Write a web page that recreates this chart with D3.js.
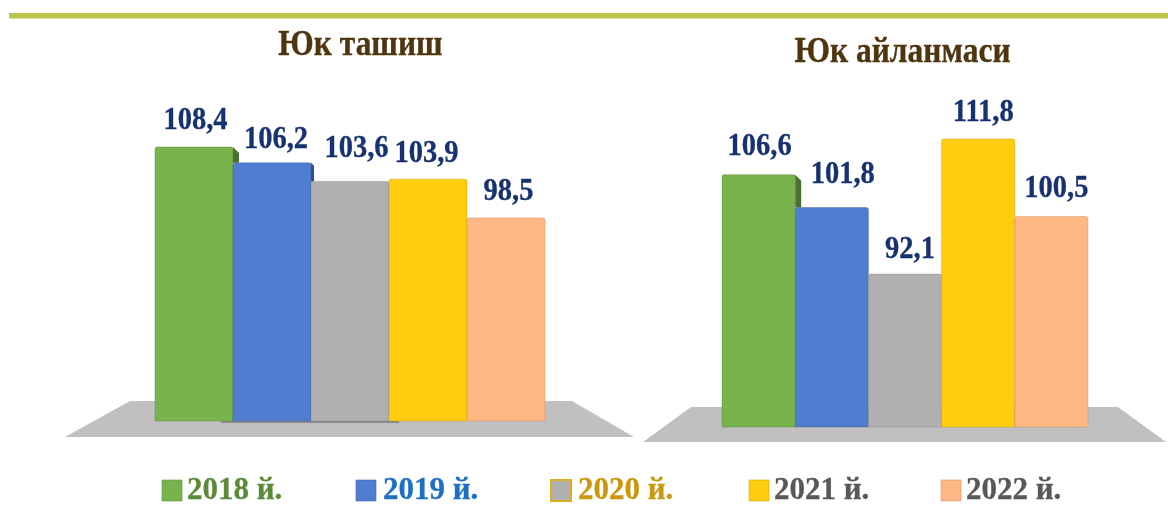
<!DOCTYPE html>
<html>
<head>
<meta charset="utf-8">
<script src="https://cdn.jsdelivr.net/npm/d3@7/dist/d3.min.js"></script>
<style>
  html, body { margin: 0; padding: 0; background: #fff; }
  text { font-family: "Liberation Serif", serif; font-weight: bold; }
</style>
</head>
<body>
<div id="chart_div"></div>
<script>
  // data
  var years = ["2018 й.", "2019 й.", "2020 й.", "2021 й.", "2022 й."];
  var cargoTransport = [108.4, 106.2, 103.6, 103.9, 98.5];
  var cargoTurnover = [106.6, 101.8, 92.1, 111.8, 100.5];
  var barColors = ["#78b34e", "#4f7dcf", "#b0b0b0", "#ffcd0c", "#ffb784"];
  var legendTextColors = ["#5c8a38", "#1f70c4", "#c8980f", "#595959", "#595959"];

  var all_width = 1168, all_height = 506;
  var stretch = 1.12; // the source text is a bit taller than the font

  var svg = d3.select("#chart_div")
    .append("svg")
      .attr("width", all_width)
      .attr("height", all_height)
      .style("display", "block");

  // the source is a soft screenshot, so everything gets a slight blur
  svg.append("defs").append("filter").attr("id", "soft")
    .attr("x", "-5%").attr("y", "-5%").attr("width", "110%").attr("height", "110%")
    .append("feGaussianBlur").attr("stdDeviation", 0.55);

  var root = svg.append("g").attr("filter", "url(#soft)");

  // top rule
  root.append("rect")
    .attr("x", 9).attr("y", 13)
    .attr("width", all_width - 9).attr("height", 5.5)
    .attr("fill", "#bcc548");

  function panel(opt) {
    var x = d3.scaleBand().domain(years).range(opt.xRange).padding(0);
    var y = d3.scaleLinear().domain(opt.yDomain).range(opt.yRange);
    var g = root.append("g");

    // floor
    g.append("polygon")
      .attr("points", opt.floor.map(function(p) { return p.join(","); }).join(" "))
      .attr("fill", "#c0c0c0");

    if (opt.shadow) {
      g.append("rect")
        .attr("x", x(years[1]) - 12)
        .attr("y", opt.yRange[0])
        .attr("width", x(years[3]) - x(years[1]) + 22)
        .attr("height", 2)
        .attr("fill", "#8c8c8c");
    }

    // dark side of a bar, seen where the next bar is lower
    g.selectAll("sides")
      .data(opt.sideWidth)
      .enter()
      .append("polygon")
        .attr("points", function(w, i) {
          var right = x(years[i]) + x.bandwidth();
          var top = y(opt.values[i]), next = y(opt.values[i + 1]);
          if (!w) return "";
          return [[right, top], [right + w, top + w], [right + w, next], [right, next]].join(" ");
        })
        .attr("fill", function(w, i) { return d3.color(barColors[i]).darker(1.3); });

    // bars
    g.selectAll("bars")
      .data(opt.values)
      .enter()
      .append("path")
        .attr("d", function(d, i) {
          var x0 = x(years[i]), x1 = x0 + x.bandwidth(), top = y(d), r = 2;
          return "M" + x0 + "," + opt.yRange[0] + "V" + (top + r) + "Q" + x0 + "," + top + " " + (x0 + r) + "," + top +
            "H" + (x1 - r) + "Q" + x1 + "," + top + " " + x1 + "," + (top + r) + "V" + opt.yRange[0] + "Z";
        })
        .attr("fill", function(d, i) { return barColors[i]; })
        .attr("stroke", function(d, i) { return d3.color(barColors[i]).darker(0.9); })
        .attr("stroke-width", 0.4);

    // value labels
    g.selectAll("labels")
      .data(opt.values)
      .enter()
      .append("text")
        .attr("transform", function(d, i) {
          return "translate(" + (x(years[i]) + x.bandwidth() / 2 + opt.labelDx[i]) + "," + (y(d) + opt.labelDy[i]) + ") scale(1," + stretch + ")";
        })
        .attr("text-anchor", "middle")
        .attr("font-size", 28.5)
        .attr("fill", "#16306f")
        .attr("stroke", "#16306f")
        .attr("stroke-width", 0.3)
        .text(function(d) { return String(d).replace(".", ","); });

    // title
    g.append("text")
      .attr("transform", "translate(" + opt.titleX + "," + opt.titleY + ") scale(1," + stretch + ")")
      .attr("text-anchor", "middle")
      .attr("font-size", 31.5)
      .attr("fill", "#4f3511")
      .attr("stroke", "#4f3511")
      .attr("stroke-width", 0.3)
      .text(opt.title);
  }

  panel({
    title: "Юк ташиш", titleX: 360.5, titleY: 55,
    values: cargoTransport,
    xRange: [155, 545], yDomain: [70.2, 108.4], yRange: [421, 147],
    floor: [[65, 437], [130, 401], [572, 401], [634, 437]],
    sideWidth: [6, 3, 0, 0],
    shadow: true,
    labelDx: [1.5, 4, 6.5, -1.5, 2.5], labelDy: [-18, -15, -24, -17, -18]
  });

  panel({
    title: "Юк айланмаси", titleX: 902.5, titleY: 62,
    values: cargoTurnover,
    xRange: [722, 1088], yDomain: [69.8, 111.8], yRange: [427, 139],
    floor: [[643, 442], [691, 407], [1118, 407], [1166, 442]],
    sideWidth: [6, 0, 0, 0],
    shadow: false,
    labelDx: [1, 11, 5, 5, 5], labelDy: [-20, -25, -16, -18, -19.5]
  });

  // legend
  var legendSwatchX = [162, 356, 551, 749, 941];
  var legendTextX = [187, 383, 578, 774, 966];
  var legend = root.selectAll("legend")
    .data(years)
    .enter()
    .append("g");

  legend.append("rect")
    .attr("x", function(d, i) { return legendSwatchX[i]; })
    .attr("y", 480)
    .attr("width", 20).attr("height", 21)
    .attr("fill", function(d, i) { return barColors[i]; })
    .attr("stroke", function(d, i) { return i === 2 ? "#dcae20" : d3.color(barColors[i]).darker(0.6); })
    .attr("stroke-width", function(d, i) { return i === 2 ? 2 : 0.6; });

  legend.append("text")
    .attr("x", function(d, i) { return legendTextX[i]; })
    .attr("y", 499)
    .attr("font-size", 31)
    .attr("fill", function(d, i) { return legendTextColors[i]; })
    .attr("stroke", function(d, i) { return legendTextColors[i]; })
    .attr("stroke-width", 0.3)
    .text(function(d) { return d; });
</script>
</body>
</html>
